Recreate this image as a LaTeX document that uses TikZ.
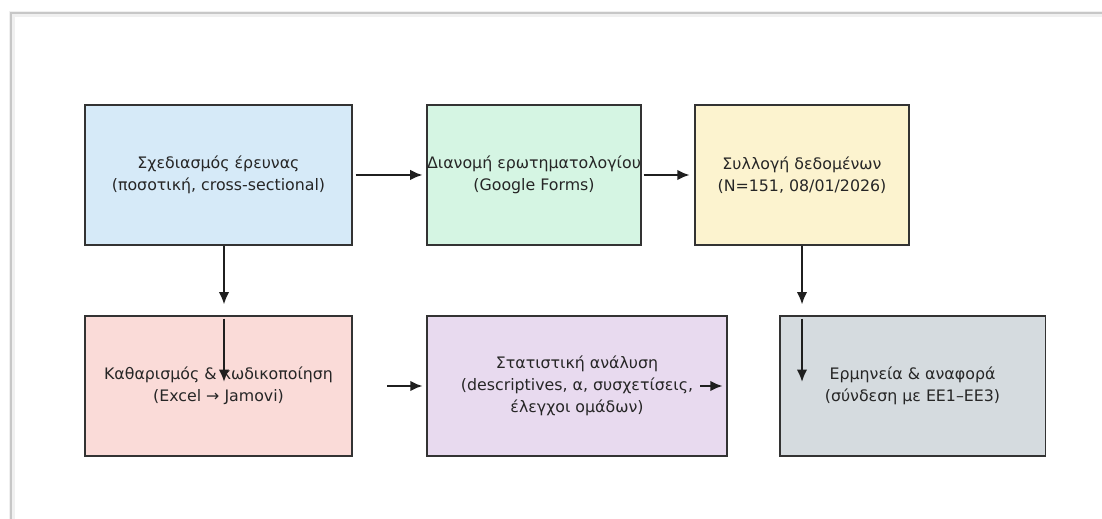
\documentclass[tikz,border=0pt]{standalone}
\usepackage{fontspec}
\setmainfont{DejaVu Sans}
\usetikzlibrary{arrows.meta}
\definecolor{designblue}{HTML}{D6EAF8}
\definecolor{formgreen}{HTML}{D5F5E3}
\definecolor{dataYellow}{HTML}{FCF3CF}
\definecolor{cleanpink}{HTML}{FADBD8}
\definecolor{statpurple}{HTML}{E8DAEF}
\definecolor{reportgray}{HTML}{D5DBDF}
\begin{document}
\begin{tikzpicture}[x=0.02cm,y=-0.02cm,
    stage/.style={draw=black!80, line width=1.1pt, align=center, inner sep=0pt,
      text=black!85, font=\fontsize{9}{12.5}\selectfont, minimum height=2.8cm},
    flow/.style={-{Latex[length=7pt,width=6pt]}, line width=1.2pt, black!88}]
    \useasboundingbox (0,0) rectangle (1102,519);

    % Frame of the screenshot
    \draw[black!6, line width=3pt] (12,519) -- (12,14) -- (1102,14);
    \draw[black!22, line width=0.8pt] (11,519) -- (11,13) -- (1102,13);

    % Draw the stages, upper row
    \node[stage, fill=designblue, minimum width=5.34cm] (design) at (218.5,175)
        {Σχεδιασμός έρευνας\\(ποσοτική, cross-sectional)};
    \node[stage, fill=formgreen, minimum width=4.28cm] (forms) at (534,175)
        {Διανομή ερωτηματολογίου\\(Google Forms)};
    \node[stage, fill=dataYellow, minimum width=4.28cm] (collect) at (802,175)
        {Συλλογή δεδομένων\\(N=151, 08/01/2026)};

    % Draw the stages, lower row
    \node[stage, fill=cleanpink, minimum width=5.34cm] (clean) at (218.5,386)
        {Καθαρισμός \& κωδικοποίηση\\(Excel → Jamovi)};
    \node[stage, fill=statpurple, minimum width=6cm] (stats) at (577,386)
        {Στατιστική ανάλυση\\(descriptives, α, συσχετίσεις,\\έλεγχοι ομάδων)};
    \node[stage, fill=reportgray, minimum width=5.32cm] (report) at (912.5,386)
        {Ερμηνεία \& αναφορά\\(σύνδεση με ΕΕ1–ΕΕ3)};

    % Free ends of the arrows
    \coordinate (downA) at (224,0);
    \coordinate (endA) at (224,382);
    \coordinate (endC) at (802,382);
    \coordinate (startB) at (387,386);
    \coordinate (startD) at (700,386);

    % Draw the arrows between the stages
    \draw[flow, shorten <=1.5pt, shorten >=2pt] (design) -- (forms);
    \draw[flow, shorten <=1pt, shorten >=2.5pt] (forms) -- (collect);
    \draw[flow, shorten >=6pt] (design.south -| downA) -- (clean.north -| downA);
    \draw[flow, shorten <=2pt] (clean.north -| downA) -- (endA);
    \draw[flow, shorten >=2pt] (startB) -- (stats.west);
    \draw[flow, shorten >=3pt] (startD) -- (stats.east);
    \draw[flow, shorten >=6pt] (collect.south) -- (report.north -| collect.south);
    \draw[flow, shorten <=2pt] (report.north -| collect.south) -- (endC);
\end{tikzpicture}
\end{document}
